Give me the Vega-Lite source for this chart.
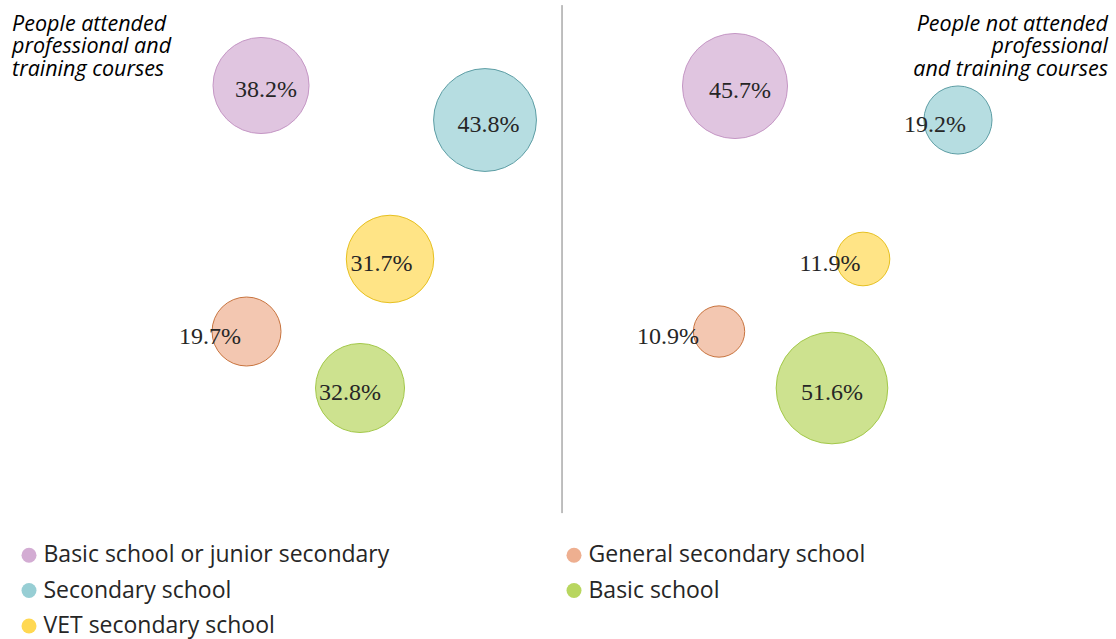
{
  "$schema": "https://vega.github.io/schema/vega-lite/v6.json",
  "width": 1116,
  "height": 639,
  "autosize": {"type": "none"},
  "padding": 0,
  "background": "white",
  "config": {"view": {"stroke": null}},
  "datasets": {
    "bubbles": [
      {"group": "Attended", "category": "Basic school or junior secondary", "value": 38.2, "label": "38.2%", "x": 23.39, "y": 86.62, "lx": 23.84},
      {"group": "Attended", "category": "Secondary school", "value": 43.8, "label": "43.8%", "x": 43.46, "y": 81.22, "lx": 43.77},
      {"group": "Attended", "category": "VET secondary school", "value": 31.7, "label": "31.7%", "x": 34.95, "y": 59.47, "lx": 34.19},
      {"group": "Attended", "category": "General secondary school", "value": 19.7, "label": "19.7%", "x": 22.09, "y": 48.12, "lx": 18.82},
      {"group": "Attended", "category": "Basic school", "value": 32.8, "label": "32.8%", "x": 32.26, "y": 39.28, "lx": 31.36},
      {"group": "Not attended", "category": "Basic school or junior secondary", "value": 45.7, "label": "45.7%", "x": 65.86, "y": 86.54, "lx": 66.31},
      {"group": "Not attended", "category": "Secondary school", "value": 19.2, "label": "19.2%", "x": 85.84, "y": 81.22, "lx": 83.78},
      {"group": "Not attended", "category": "VET secondary school", "value": 11.9, "label": "11.9%", "x": 77.33, "y": 59.47, "lx": 74.37},
      {"group": "Not attended", "category": "General secondary school", "value": 10.9, "label": "10.9%", "x": 64.43, "y": 48.12, "lx": 59.86},
      {"group": "Not attended", "category": "Basic school", "value": 51.6, "label": "51.6%", "x": 74.55, "y": 39.28, "lx": 74.55}
    ],
    "notes": [
      {"text": "People attended\nprofessional and\ntraining courses", "x": 1.08, "y": 95.15, "side": "left"},
      {"text": "People not attended\nprofessional\nand training courses", "x": 99.28, "y": 95.15, "side": "right"}
    ],
    "divider": [{"x": 50.36, "y": 99.2, "y2": 19.7}]
  },
  "layer": [
    {
      "data": {"name": "divider"},
      "mark": {"type": "rule", "color": "#7f7f7f", "strokeWidth": 1},
      "encoding": {
        "x": {"field": "x", "type": "quantitative", "scale": {"domain": [0, 100]}, "axis": null},
        "y": {"field": "y", "type": "quantitative", "scale": {"domain": [0, 100]}, "axis": null},
        "y2": {"field": "y2"}
      }
    },
    {
      "data": {"name": "bubbles"},
      "mark": {"type": "circle", "fillOpacity": 0.7, "strokeWidth": 1, "strokeOpacity": 1},
      "encoding": {
        "x": {"field": "x", "type": "quantitative", "scale": {"domain": [0, 100]}, "axis": null},
        "y": {"field": "y", "type": "quantitative", "scale": {"domain": [0, 100]}, "axis": null},
        "size": {"field": "value", "type": "quantitative", "scale": {"type": "linear", "domain": [0, 100], "range": [0, 24150]}, "legend": null},
        "fill": {
          "field": "category", "type": "nominal",
          "scale": {
            "domain": ["Basic school or junior secondary", "Secondary school", "VET secondary school", "General secondary school", "Basic school"],
            "range": ["#d3acd3", "#97ced4", "#ffd852", "#eeaf90", "#b8d65f"]
          },
          "legend": {
            "orient": "none", "legendX": 17.5, "legendY": 543.5, "direction": "vertical", "columns": 2,
            "title": null, "padding": 0, "symbolType": "circle", "symbolSize": 225, "symbolOpacity": 1,
            "symbolStrokeWidth": 0, "labelFont": "Open Sans", "labelFontSize": 23, "labelColor": "#262626",
            "labelLimit": 600, "labelOffset": 3, "rowPadding": 11.5, "columnPadding": 173
          }
        },
        "stroke": {
          "field": "category", "type": "nominal",
          "scale": {
            "domain": ["Basic school or junior secondary", "Secondary school", "VET secondary school", "General secondary school", "Basic school"],
            "range": ["#c597c5", "#5e9ea5", "#e6c020", "#c8743f", "#a3c84a"]
          },
          "legend": null
        }
      }
    },
    {
      "data": {"name": "bubbles"},
      "mark": {"type": "text", "font": "Liberation Serif", "fontSize": 24, "dy": 12, "baseline": "alphabetic", "align": "center", "color": "#262626"},
      "encoding": {
        "x": {"field": "lx", "type": "quantitative", "scale": {"domain": [0, 100]}, "axis": null},
        "y": {"field": "y", "type": "quantitative", "scale": {"domain": [0, 100]}, "axis": null},
        "text": {"field": "label", "type": "nominal"}
      }
    },
    {
      "data": {"name": "notes"},
      "transform": [{"filter": "datum.side === 'left'"}],
      "mark": {"type": "text", "font": "Open Sans", "fontStyle": "italic", "fontSize": 21.5, "align": "left", "baseline": "alphabetic", "lineBreak": "\n", "lineHeight": 22.5, "color": "#000000"},
      "encoding": {
        "x": {"field": "x", "type": "quantitative", "scale": {"domain": [0, 100]}, "axis": null},
        "y": {"field": "y", "type": "quantitative", "scale": {"domain": [0, 100]}, "axis": null},
        "text": {"field": "text", "type": "nominal"}
      }
    },
    {
      "data": {"name": "notes"},
      "transform": [{"filter": "datum.side === 'right'"}],
      "mark": {"type": "text", "font": "Open Sans", "fontStyle": "italic", "fontSize": 21.5, "align": "right", "baseline": "alphabetic", "lineBreak": "\n", "lineHeight": 22.5, "color": "#000000"},
      "encoding": {
        "x": {"field": "x", "type": "quantitative", "scale": {"domain": [0, 100]}, "axis": null},
        "y": {"field": "y", "type": "quantitative", "scale": {"domain": [0, 100]}, "axis": null},
        "text": {"field": "text", "type": "nominal"}
      }
    }
  ]
}
